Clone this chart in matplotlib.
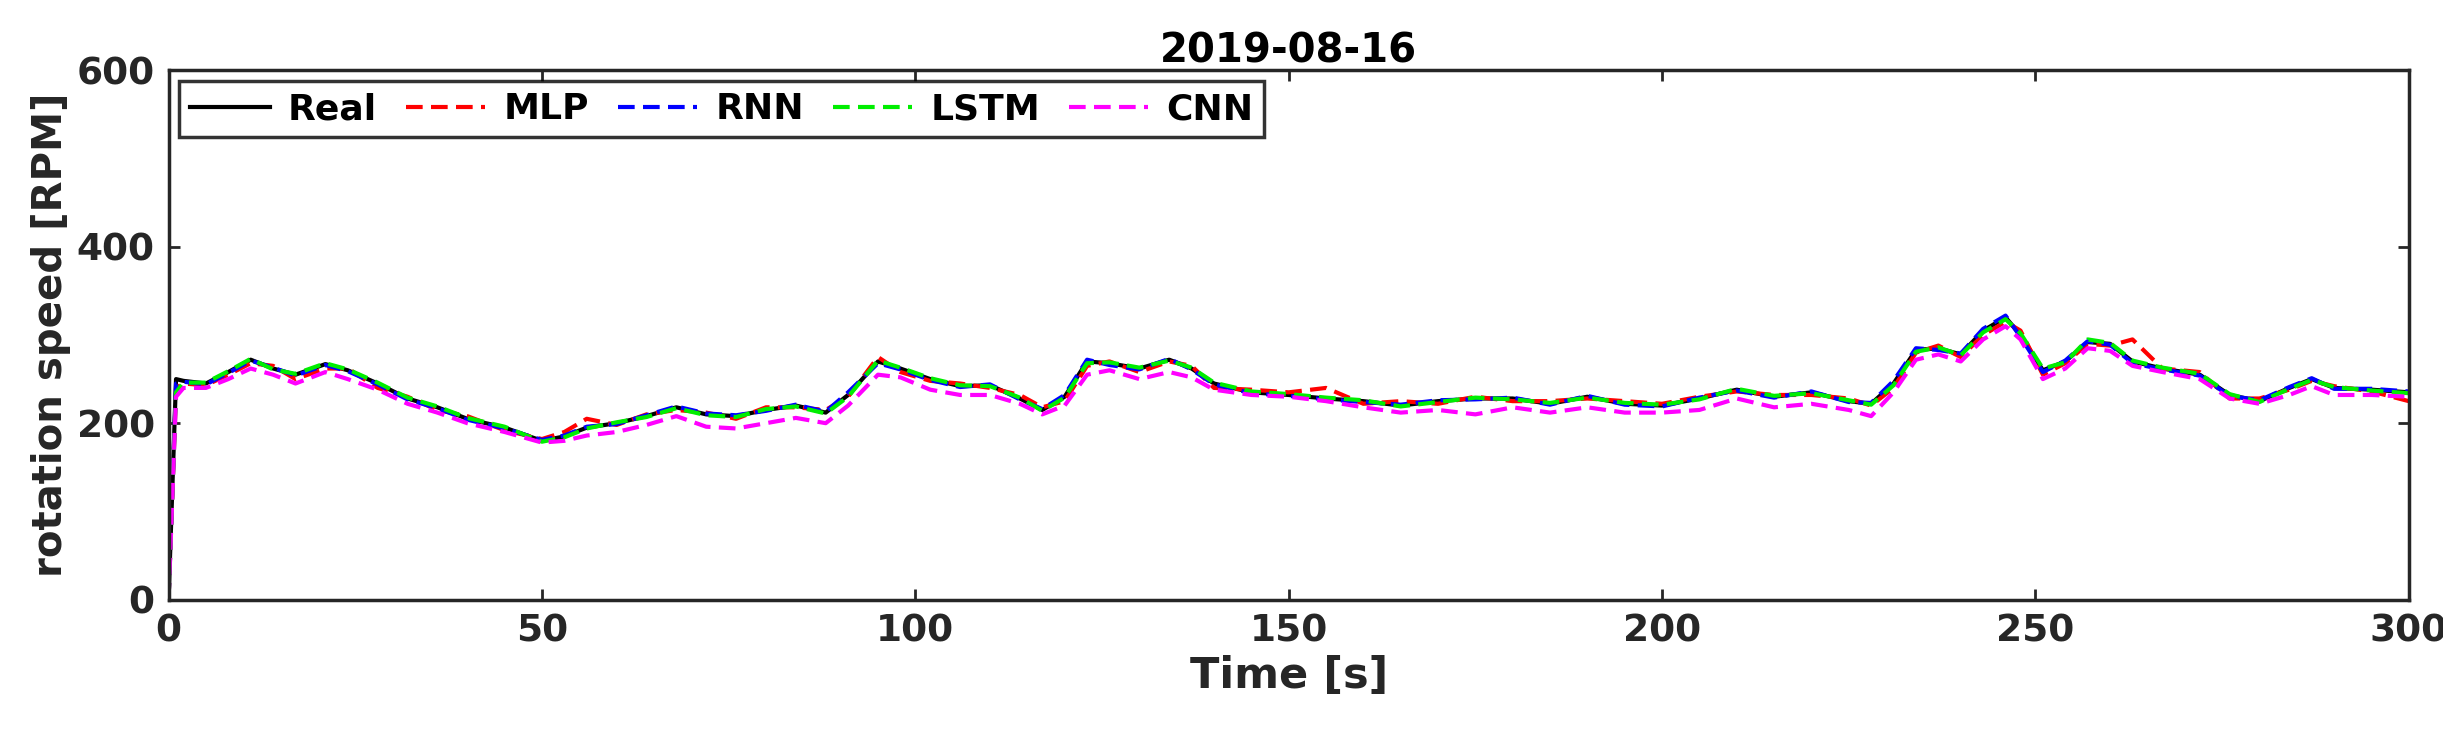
import matplotlib.pyplot as plt

# data
t = [0, 1, 2, 5, 8, 11, 14, 17, 21, 24, 28, 32, 36, 40, 45, 50, 53, 56, 60, 64,
     68, 72, 76, 80, 84, 88, 91, 95, 98, 102, 106, 110, 114, 117, 120, 123, 126, 130, 134, 137,
     140, 145, 150, 155, 160, 165, 170, 175, 180, 185, 190, 195, 200, 205, 210, 215, 220, 225, 228, 231,
     234, 237, 240, 243, 246, 248, 251, 254, 257, 260, 263, 267, 272, 276, 280, 284, 287, 290, 295, 300]
real = [0, 250, 248, 245, 258, 272, 262, 255, 267, 260, 245, 228, 218, 205, 195, 180, 185, 195, 200, 208,
        218, 210, 208, 215, 220, 212, 232, 270, 262, 250, 242, 243, 228, 215, 230, 270, 268, 262, 272, 262,
        245, 235, 232, 228, 225, 220, 225, 228, 228, 222, 230, 222, 220, 228, 238, 230, 235, 225, 222, 245,
        283, 285, 278, 305, 320, 300, 260, 270, 292, 290, 270, 262, 255, 232, 225, 240, 250, 240, 238, 235]
mlp = [0, 240, 245, 243, 255, 268, 265, 250, 262, 262, 240, 230, 215, 208, 192, 182, 190, 205, 198, 210,
       215, 212, 205, 218, 218, 215, 230, 275, 258, 248, 245, 240, 232, 218, 225, 265, 270, 258, 270, 265,
       240, 238, 235, 240, 222, 225, 222, 230, 225, 225, 228, 225, 222, 230, 236, 232, 232, 228, 220, 240,
       280, 288, 275, 300, 315, 305, 255, 268, 290, 288, 295, 262, 258, 228, 228, 238, 248, 242, 236, 225]
rnn = [0, 245, 247, 244, 257, 271, 263, 254, 266, 259, 244, 227, 217, 204, 194, 181, 186, 196, 199, 209,
       219, 211, 209, 214, 221, 213, 235, 268, 261, 249, 241, 244, 227, 216, 232, 272, 266, 261, 273, 261,
       244, 234, 231, 227, 224, 221, 226, 227, 229, 221, 231, 221, 219, 229, 237, 229, 236, 224, 223, 248,
       285, 283, 279, 307, 322, 298, 258, 271, 293, 289, 268, 261, 254, 231, 226, 241, 251, 239, 239, 236]
lstm = [0, 235, 246, 246, 259, 273, 261, 256, 268, 261, 246, 229, 219, 206, 196, 179, 184, 194, 201, 207,
        217, 209, 207, 216, 219, 211, 230, 271, 263, 251, 243, 242, 229, 214, 229, 268, 269, 263, 271, 263,
        246, 236, 233, 229, 226, 219, 224, 229, 227, 223, 229, 223, 221, 227, 239, 231, 234, 226, 221, 243,
        281, 286, 277, 303, 318, 302, 262, 269, 295, 291, 271, 263, 256, 233, 224, 239, 249, 241, 237, 234]
cnn = [0, 230, 240, 240, 250, 262, 255, 245, 258, 250, 238, 222, 212, 200, 190, 178, 180, 186, 190, 198,
       208, 196, 194, 200, 206, 200, 220, 255, 252, 238, 232, 232, 222, 210, 220, 255, 260, 250, 258, 252,
       238, 232, 230, 225, 218, 212, 215, 210, 218, 212, 218, 212, 212, 215, 228, 218, 222, 215, 208, 235,
       272, 278, 270, 295, 310, 295, 250, 262, 285, 282, 265, 258, 250, 228, 222, 232, 242, 232, 232, 230]

series = [("Real", real, "black", "-"), ("MLP", mlp, "red", "--"), ("RNN", rnn, "blue", "--"),
          ("LSTM", lstm, "#00ee00", "--"), ("CNN", cnn, "magenta", "--")]

grey = "#262626"
plt.rcParams['font.weight'] = 'bold'
fig = plt.figure(figsize=(24.43, 7.42), dpi=100)
ax = fig.add_axes([0.069, 0.192, 0.917, 0.713])
for name, vals, col, ls in series:
    ax.plot(t, vals, color=col, linestyle=ls, linewidth=3, label=name,
            dashes=(4, 2) if ls == "--" else (None, None))

ax.set_xlim(0, 300)
ax.set_ylim(0, 600)
ax.set_xticks([0, 50, 100, 150, 200, 250, 300])
ax.set_yticks([0, 200, 400, 600])
ax.tick_params(labelsize=27, width=2, length=8, direction='in', top=True, right=True,
               colors=grey, labelcolor=grey, pad=10)
for s in ax.spines.values():
    s.set_linewidth(2.5)
    s.set_color(grey)
ax.set_xlabel("Time [s]", fontsize=31, fontweight='bold', color=grey, labelpad=4)
ax.set_ylabel("rotation speed [RPM]", fontsize=29, fontweight='bold', color=grey)
ax.set_title("2019-08-16", fontsize=29, fontweight='bold', color="black")
leg = ax.legend(loc='upper left', ncol=5, fontsize=26, frameon=True, fancybox=False,
                edgecolor='black', handlelength=2.2, columnspacing=0.8, handletextpad=0.5,
                borderaxespad=0.3, borderpad=0.3)
leg.get_frame().set_linewidth(2.5)

plt.savefig('out.png', dpi=100)
